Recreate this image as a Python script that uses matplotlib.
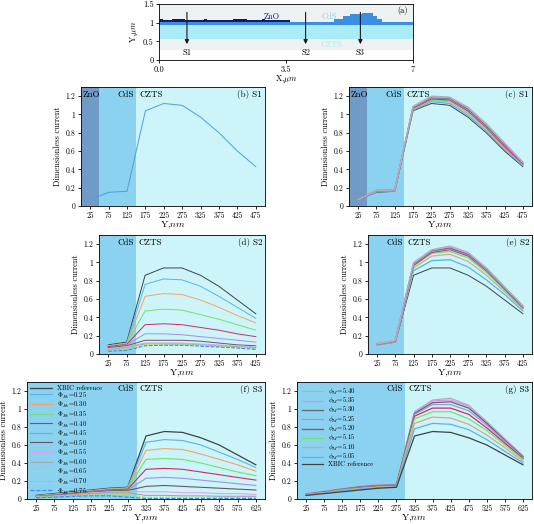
import numpy as np
import matplotlib
matplotlib.use("Agg")
import matplotlib.pyplot as plt

plt.rcParams['font.family'] = ['cmr10', 'DejaVu Serif']
plt.rcParams['mathtext.fontset'] = 'cm'
plt.rcParams['axes.formatter.use_mathtext'] = True
plt.rcParams['axes.unicode_minus'] = False

# ---------------- data ----------------
# panel (a) map
zno_x = [0, 0.12, 0.35, 0.72, 1.24, 1.33, 2.05, 2.42, 2.83, 2.92, 3.6]
zno_top = [1.11, 1.06, 1.11, 1.06, 1.11, 1.06, 1.11, 1.06, 1.11, 1.06, 1.06]
cds_x = [0, 4.83, 5.08, 5.25, 5.6, 5.9, 6.0, 6.15, 7]
cds_top = [1.02, 1.10, 1.18, 1.22, 1.25, 1.18, 1.10, 1.02, 1.02]
czts_bottom = 0.57
czts_top = 0.95
layer_bottom = 0.27
cut_x = [0.77, 4.04, 5.55]
cut_names = ['S1', 'S2', 'S3']

# S1
y_s1 = [25, 75, 125, 175, 225, 275, 325, 375, 425, 475]
s1_ref = [0.07, 0.15, 0.16, 1.04, 1.12, 1.10, 0.97, 0.80, 0.60, 0.43]
s1_phiM = {
    '5.05': [0.07, 0.155, 0.165, 1.05, 1.14, 1.12, 0.99, 0.82, 0.62, 0.44],
    '5.10': [0.07, 0.16, 0.167, 1.06, 1.15, 1.14, 1.01, 0.84, 0.63, 0.45],
    '5.15': [0.07, 0.16, 0.168, 1.065, 1.16, 1.15, 1.03, 0.85, 0.64, 0.455],
    '5.20': [0.07, 0.165, 0.17, 1.07, 1.17, 1.16, 1.04, 0.86, 0.65, 0.46],
    '5.25': [0.07, 0.165, 0.172, 1.075, 1.18, 1.17, 1.05, 0.87, 0.66, 0.465],
    '5.30': [0.07, 0.17, 0.173, 1.08, 1.185, 1.18, 1.06, 0.88, 0.67, 0.47],
    '5.35': [0.07, 0.17, 0.175, 1.085, 1.19, 1.185, 1.07, 0.89, 0.68, 0.475],
    '5.40': [0.07, 0.17, 0.176, 1.09, 1.20, 1.19, 1.08, 0.90, 0.69, 0.48],
}

# S2
y_s2 = [25, 75, 125, 175, 225, 275, 325, 375, 425]
s2_ref = [0.10, 0.13, 0.86, 0.94, 0.94, 0.86, 0.74, 0.59, 0.44]
s2_phiB = {
    '0.25': [0.09, 0.12, 0.76, 0.82, 0.81, 0.74, 0.63, 0.51, 0.39],
    '0.30': [0.09, 0.115, 0.63, 0.66, 0.65, 0.59, 0.51, 0.42, 0.34],
    '0.35': [0.08, 0.11, 0.47, 0.49, 0.48, 0.43, 0.38, 0.32, 0.26],
    '0.40': [0.08, 0.105, 0.32, 0.33, 0.32, 0.29, 0.26, 0.22, 0.19],
    '0.45': [0.07, 0.10, 0.22, 0.22, 0.21, 0.19, 0.17, 0.15, 0.13],
    '0.50': [0.07, 0.09, 0.15, 0.15, 0.15, 0.14, 0.12, 0.10, 0.09],
    '0.55': [0.06, 0.08, 0.12, 0.12, 0.12, 0.11, 0.10, 0.09, 0.075],
    '0.60': [0.05, 0.07, 0.11, 0.11, 0.11, 0.10, 0.09, 0.08, 0.07],
    '0.65': [0.04, 0.06, 0.10, 0.105, 0.10, 0.095, 0.085, 0.07, 0.06],
    '0.70': [0.04, 0.05, 0.09, 0.10, 0.10, 0.09, 0.08, 0.07, 0.055],
    '0.75': [0.03, 0.04, 0.09, 0.095, 0.095, 0.085, 0.075, 0.065, 0.05],
}
s2_phiM = {
    '5.05': [0.10, 0.13, 0.91, 1.02, 1.03, 0.95, 0.81, 0.65, 0.47],
    '5.10': [0.10, 0.135, 0.94, 1.07, 1.09, 1.01, 0.86, 0.68, 0.49],
    '5.15': [0.105, 0.14, 0.96, 1.10, 1.12, 1.05, 0.89, 0.70, 0.50],
    '5.20': [0.105, 0.14, 0.97, 1.11, 1.14, 1.07, 0.91, 0.71, 0.505],
    '5.25': [0.11, 0.14, 0.98, 1.12, 1.15, 1.08, 0.92, 0.72, 0.51],
    '5.30': [0.11, 0.145, 0.985, 1.13, 1.16, 1.09, 0.93, 0.725, 0.515],
    '5.35': [0.11, 0.145, 0.99, 1.135, 1.17, 1.10, 0.935, 0.73, 0.52],
    '5.40': [0.11, 0.15, 1.0, 1.14, 1.18, 1.11, 0.94, 0.735, 0.53],
}

# S3
y_s3 = [25, 75, 125, 175, 225, 275, 325, 375, 425, 475, 525, 575, 625]
s3_ref = [0.04, 0.06, 0.08, 0.10, 0.12, 0.13, 0.70, 0.75, 0.74, 0.68, 0.60, 0.49, 0.38]
s3_phiB = {
    '0.25': [0.035, 0.055, 0.075, 0.095, 0.115, 0.125, 0.63, 0.66, 0.65, 0.60, 0.52, 0.44, 0.35],
    '0.30': [0.035, 0.05, 0.07, 0.09, 0.11, 0.12, 0.54, 0.56, 0.55, 0.50, 0.44, 0.38, 0.31],
    '0.35': [0.03, 0.05, 0.07, 0.09, 0.105, 0.115, 0.44, 0.45, 0.44, 0.40, 0.35, 0.30, 0.26],
    '0.40': [0.03, 0.045, 0.065, 0.085, 0.10, 0.11, 0.33, 0.34, 0.33, 0.30, 0.27, 0.24, 0.21],
    '0.45': [0.03, 0.045, 0.06, 0.08, 0.095, 0.10, 0.23, 0.24, 0.23, 0.21, 0.19, 0.17, 0.15],
    '0.50': [0.025, 0.04, 0.055, 0.075, 0.09, 0.095, 0.14, 0.15, 0.14, 0.13, 0.12, 0.11, 0.10],
    '0.55': [0.025, 0.035, 0.05, 0.07, 0.08, 0.085, 0.08, 0.08, 0.07, 0.07, 0.06, 0.06, 0.05],
    '0.60': [0.02, 0.03, 0.045, 0.06, 0.07, 0.07, 0.04, 0.04, 0.035, 0.035, 0.03, 0.03, 0.03],
    '0.65': [0.02, 0.03, 0.04, 0.05, 0.055, 0.05, 0.02, 0.02, 0.02, 0.02, 0.015, 0.015, 0.015],
    '0.70': [0.015, 0.025, 0.035, 0.04, 0.045, 0.035, 0.01, 0.01, 0.01, 0.01, 0.01, 0.01, 0.01],
    '0.75': [0.015, 0.02, 0.03, 0.035, 0.035, 0.02, 0.005, 0.005, 0.005, 0.005, 0.005, 0.005, 0.005],
}
s3_phiM = {
    '5.05': [0.045, 0.065, 0.09, 0.11, 0.125, 0.135, 0.78, 0.84, 0.83, 0.77, 0.66, 0.53, 0.40],
    '5.10': [0.05, 0.07, 0.095, 0.115, 0.13, 0.14, 0.84, 0.91, 0.90, 0.83, 0.71, 0.57, 0.42],
    '5.15': [0.05, 0.07, 0.10, 0.12, 0.135, 0.145, 0.89, 0.97, 0.97, 0.89, 0.76, 0.60, 0.44],
    '5.20': [0.05, 0.075, 0.10, 0.125, 0.14, 0.15, 0.92, 1.01, 1.01, 0.94, 0.79, 0.62, 0.45],
    '5.25': [0.055, 0.075, 0.105, 0.13, 0.145, 0.15, 0.94, 1.05, 1.05, 0.98, 0.82, 0.64, 0.46],
    '5.30': [0.055, 0.08, 0.11, 0.135, 0.15, 0.155, 0.95, 1.07, 1.08, 1.01, 0.84, 0.65, 0.47],
    '5.35': [0.06, 0.08, 0.11, 0.14, 0.155, 0.16, 0.96, 1.09, 1.10, 1.03, 0.85, 0.66, 0.475],
    '5.40': [0.06, 0.085, 0.115, 0.14, 0.16, 0.16, 0.97, 1.10, 1.12, 1.04, 0.86, 0.67, 0.48],
}

# ---------------- styles ----------------
C_ZNO = '#6f9bc6'
C_CDS = '#8ad2ef'
C_CZTS = '#cdf4f8'
REF_COLOR = '#3c4448'
phiB_style = {
    '0.25': ('#58b2f0', '-'), '0.30': ('#f0a468', '-'), '0.35': ('#6ee46e', '-'),
    '0.40': ('#d42a62', '-'), '0.45': ('#9a94e4', '-'), '0.50': ('#6e5462', '-'),
    '0.55': ('#e2a0ee', '-'), '0.60': ('#a2a8aa', '-'), '0.65': ('#c4e040', '--'),
    '0.70': ('#40e0c8', ':'), '0.75': ('#3a86ee', '--'),
}
phiM_style = {
    '5.05': '#58b2f0', '5.10': '#d8a888', '5.15': '#6ee46e', '5.20': '#d42a62',
    '5.25': '#a094e4', '5.30': '#606468', '5.35': '#e090e4', '5.40': '#a8b4bc',
}

W, H = 534, 524
fig = plt.figure(figsize=(W / 100, H / 100), dpi=100)


def box(l, r, t, b):
    return [l / W, 1 - b / H, (r - l) / W, (b - t) / H]


TICK_FS = 5.5
LAB_FS = 7


def style_axes(ax, xticks, xmax):
    ax.set_xlim(0, xmax)
    ax.set_ylim(0, 1.3)
    ax.set_xticks(xticks)
    ax.set_xticklabels([str(v) for v in xticks])
    ax.set_yticks([0, 0.2, 0.4, 0.6, 0.8, 1.0, 1.2])
    ax.set_yticklabels(['0', '0.2', '0.4', '0.6', '0.8', '1', '1.2'])
    ax.tick_params(labelsize=TICK_FS, length=2, width=0.6, pad=2)
    for s in ax.spines.values():
        s.set_linewidth(0.6)
    ax.set_xlabel('Y,$nm$', fontsize=LAB_FS, labelpad=0)
    ax.set_ylabel('Dimensionless current', fontsize=6, labelpad=3)


def regions(ax, bounds, colors):
    for (a, b_), c in zip(bounds, colors):
        ax.axvspan(a, b_, color=c, lw=0, zorder=0)


# ---------------- panel (a) ----------------
axa = fig.add_axes(box(159, 413, 4, 60))
axa.set_xlim(0, 7)
axa.set_ylim(0, 1.5)
axa.fill_between([0, 7], layer_bottom, 1.5, color='#eef1f1', lw=0, zorder=0)
axa.fill_between([0, 7], czts_bottom, czts_top, color='#a9ecf6', lw=0, zorder=1)
axa.fill_between(cds_x, czts_top, cds_top, step='post', color='#3b8fe0', lw=0, zorder=2)
axa.fill_between(zno_x, 1.02, zno_top, step='post', color='#0b1c6c', lw=0, zorder=3)
for cx, nm in zip(cut_x, cut_names):
    axa.annotate('', xy=(cx, 0.35), xytext=(cx, 1.35),
                 arrowprops=dict(arrowstyle='-|>', color='#1a1a1a', lw=0.8,
                                 mutation_scale=6), zorder=5)
    axa.text(cx, 0.2, nm, ha='center', va='center', fontsize=6)
axa.text(3.1, 1.15, 'ZnO', color='#0b1c6c', fontsize=6, ha='center', va='center')
axa.text(4.7, 1.17, 'CdS', color='#8fd0f0', fontsize=6, ha='center', va='center', zorder=6)
axa.text(4.75, 0.42, 'CZTS', color='#a9ecf6', fontsize=6, ha='center', va='center')
axa.text(6.85, 1.33, '(a)', fontsize=6, ha='right', va='center')
axa.set_xticks([0, 3.5, 7])
axa.set_xticklabels(['0.0', '3.5', '7'])
axa.set_yticks([0, 0.5, 1, 1.5])
axa.set_yticklabels(['0', '0.5', '1', '1.5'])
axa.tick_params(labelsize=6, length=2, width=0.6, pad=2)
for s in axa.spines.values():
    s.set_linewidth(0.6)
axa.set_xlabel(r'X,$\mu m$', fontsize=6, labelpad=-1)
axa.set_ylabel(r'Y,$\mu m$', fontsize=6, labelpad=2)

# ---------------- panel (b) ----------------
axb = fig.add_axes(box(81, 265, 87, 206))
regions(axb, [(0, 50), (50, 150), (150, 500)], [C_ZNO, C_CDS, C_CZTS])
axb.plot(y_s1, s1_ref, color='#4a9ee6', lw=0.7)
style_axes(axb, y_s1, 500)
axb.text(3, 1.22, 'ZnO', fontsize=6.5, va='center')
axb.text(145, 1.22, 'CdS', fontsize=6.5, va='center', ha='right')
axb.text(158, 1.22, 'CZTS', fontsize=6.5, va='center')
axb.text(492, 1.22, '(b) S1', fontsize=6.5, va='center', ha='right')

# ---------------- panel (c) ----------------
axc = fig.add_axes(box(349, 532, 87, 206))
regions(axc, [(0, 50), (50, 150), (150, 500)], [C_ZNO, C_CDS, C_CZTS])
axc.plot(y_s1, s1_ref, color=REF_COLOR, lw=0.7)
for k, v in s1_phiM.items():
    axc.plot(y_s1, v, color=phiM_style[k], lw=0.9)
style_axes(axc, y_s1, 500)
axc.text(3, 1.22, 'ZnO', fontsize=6.5, va='center')
axc.text(145, 1.22, 'CdS', fontsize=6.5, va='center', ha='right')
axc.text(158, 1.22, 'CZTS', fontsize=6.5, va='center')
axc.text(492, 1.22, '(c) S1', fontsize=6.5, va='center', ha='right', fontweight='bold')

# ---------------- panel (d) ----------------
axd = fig.add_axes(box(99, 265, 235, 354))
regions(axd, [(0, 100), (100, 450)], [C_CDS, C_CZTS])
axd.plot(y_s2, s2_ref, color=REF_COLOR, lw=0.7)
for k, v in s2_phiB.items():
    c, ls = phiB_style[k]
    axd.plot(y_s2, v, color=c, ls=ls, lw=0.7)
style_axes(axd, y_s2, 450)
axd.text(95, 1.22, 'CdS', fontsize=6.5, va='center', ha='right')
axd.text(108, 1.22, 'CZTS', fontsize=6.5, va='center')
axd.text(443, 1.22, '(d) S2', fontsize=6.5, va='center', ha='right', fontweight='bold')

# ---------------- panel (e) ----------------
axe = fig.add_axes(box(368, 532, 235, 354))
regions(axe, [(0, 100), (100, 450)], [C_CDS, C_CZTS])
axe.plot(y_s2, s2_ref, color=REF_COLOR, lw=0.7)
for k, v in s2_phiM.items():
    axe.plot(y_s2, v, color=phiM_style[k], lw=0.9)
style_axes(axe, y_s2, 450)
axe.text(95, 1.22, 'CdS', fontsize=6.5, va='center', ha='right')
axe.text(108, 1.22, 'CZTS', fontsize=6.5, va='center')
axe.text(443, 1.22, '(e) S2', fontsize=6.5, va='center', ha='right', fontweight='bold')

# ---------------- panel (f) ----------------
axf = fig.add_axes(box(27, 265, 382, 499))
regions(axf, [(0, 300), (300, 650)], [C_CDS, C_CZTS])
axf.plot(y_s3, s3_ref, color=REF_COLOR, lw=0.9, label='XBIC reference')
for k, v in s3_phiB.items():
    c, ls = phiB_style[k]
    axf.plot(y_s3, v, color=c, ls=ls, lw=0.8, label=r'$\Phi_{B_n}$=' + k)
style_axes(axf, y_s3, 650)
axf.text(293, 1.22, 'CdS', fontsize=6.5, va='center', ha='right')
axf.text(308, 1.22, 'CZTS', fontsize=6.5, va='center')
axf.text(642, 1.22, '(f) S3', fontsize=6.5, va='center', ha='right', fontweight='bold')
axf.legend(loc='upper left', fontsize=4.8, frameon=False, labelspacing=-0.2,
           handlelength=3.2, borderaxespad=0.1, handletextpad=0.8,
           bbox_to_anchor=(0.0, 1.0))

# ---------------- panel (g) ----------------
axg = fig.add_axes(box(297, 532, 382, 499))
regions(axg, [(0, 300), (300, 650)], [C_CDS, C_CZTS])
order = ['5.40', '5.35', '5.30', '5.25', '5.20', '5.15', '5.10', '5.05']
for k in order:
    axg.plot(y_s3, s3_phiM[k], color=phiM_style[k], lw=0.9, label=r'$\phi_M$=' + k)
axg.plot(y_s3, s3_ref, color=REF_COLOR, lw=0.9, label='XBIC reference')
style_axes(axg, y_s3, 650)
axg.text(293, 1.22, 'CdS', fontsize=6.5, va='center', ha='right')
axg.text(308, 1.22, 'CZTS', fontsize=6.5, va='center')
axg.text(642, 1.22, '(g) S3', fontsize=6.5, va='center', ha='right', fontweight='bold')
axg.legend(loc='upper left', fontsize=4.8, frameon=False, labelspacing=-0.12,
           handlelength=3.2, borderaxespad=0.3, handletextpad=0.8,
           bbox_to_anchor=(0.0, 1.0))

fig.savefig('out.png', dpi=100)
